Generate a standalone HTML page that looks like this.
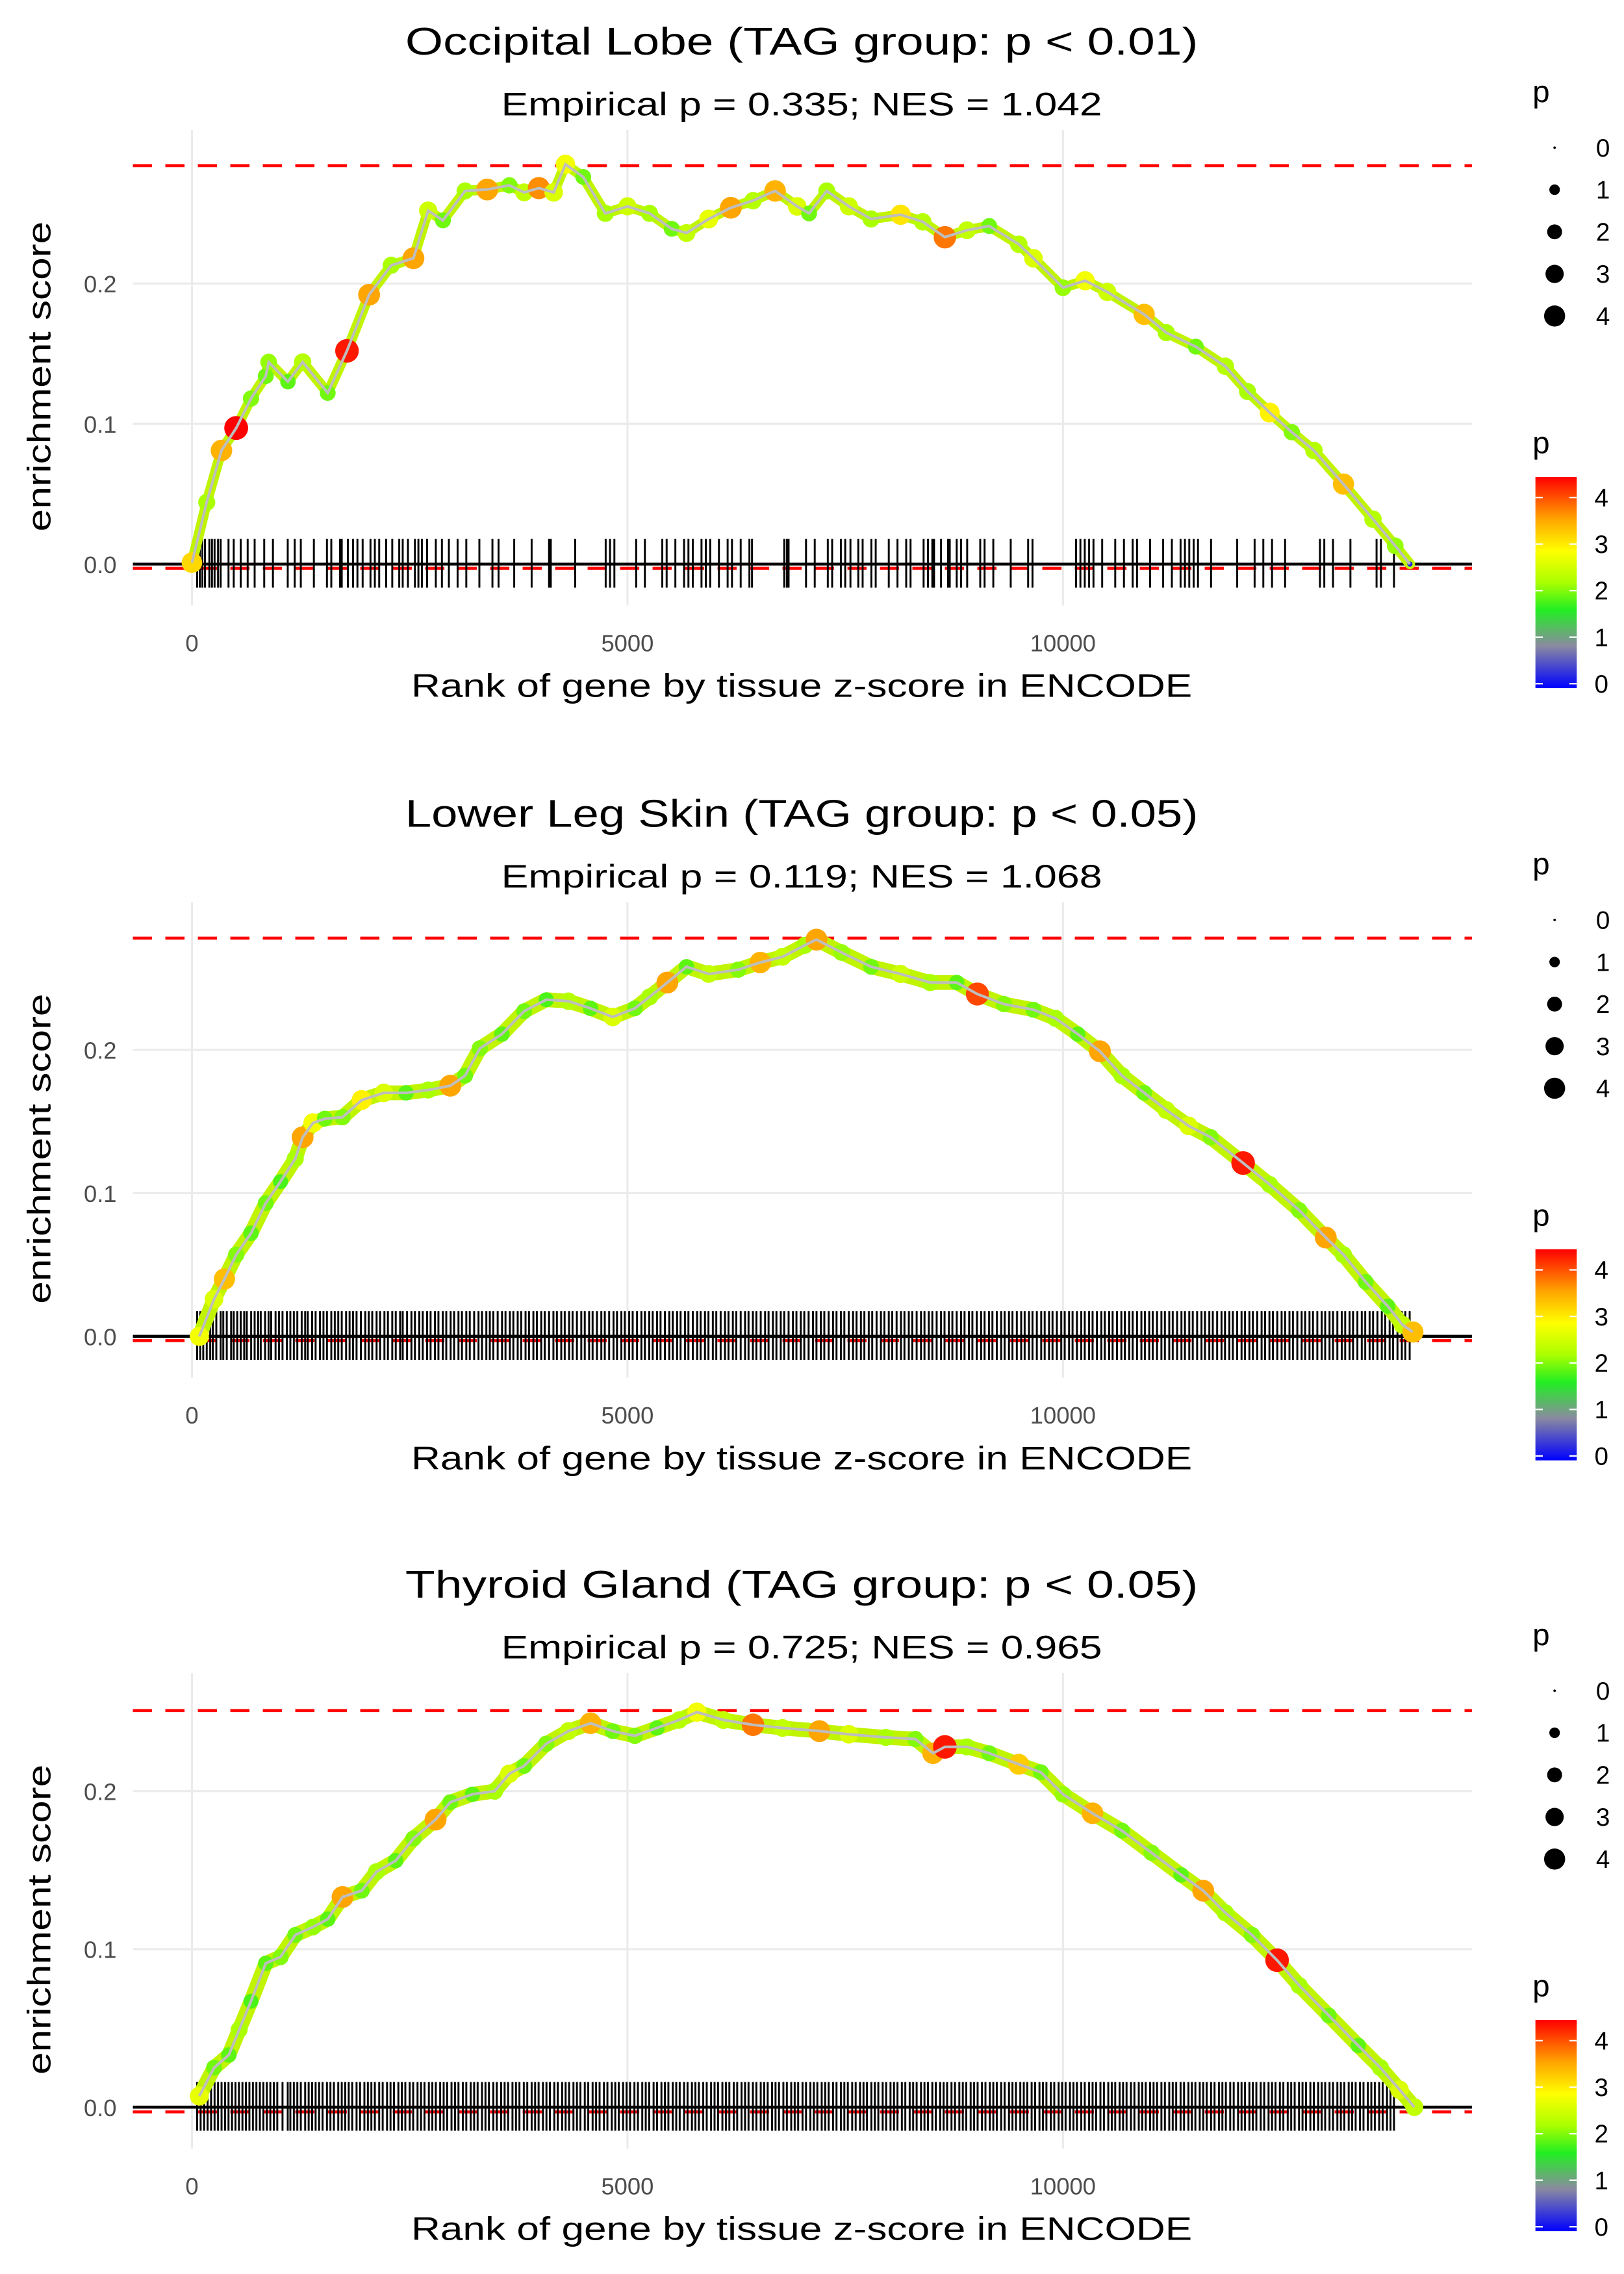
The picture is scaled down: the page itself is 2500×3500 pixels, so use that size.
<!DOCTYPE html>
<html><head><meta charset="utf-8"><title>Enrichment plots</title>
<style>html,body{margin:0;padding:0;background:#fff}svg{display:block}text{font-family:"Liberation Sans",sans-serif}</style>
</head><body>
<svg id="chart" xmlns="http://www.w3.org/2000/svg" width="2500" height="3500" viewBox="0 0 1100 1540">
<defs>
<linearGradient id="pgrad" x1="0" y1="1" x2="0" y2="0">
<stop offset="0" stop-color="#0000ff"/><stop offset="0.2" stop-color="#8a8aa0"/><stop offset="0.37" stop-color="#22ee22"/><stop offset="0.5" stop-color="#aaff00"/><stop offset="0.65" stop-color="#ffff00"/><stop offset="0.8" stop-color="#ffa500"/><stop offset="1" stop-color="#ff0000"/>
</linearGradient>
</defs>
<rect x="0" y="0" width="1100" height="1540" fill="#fff"/>
</svg>
<script>
const titles = ["Occipital Lobe (TAG group: p < 0.01)","Lower Leg Skin (TAG group: p < 0.05)","Thyroid Gland (TAG group: p < 0.05)"];
const subtitles = ["Empirical p = 0.335; NES = 1.042","Empirical p = 0.119; NES = 1.068","Empirical p = 0.725; NES = 0.965"];
const xTicks = [0,5000,10000];
const xTickLabels = ["0","5000","10000"];
const yTicks = [0,0.1,0.2];
const yTickLabels = ["0.0","0.1","0.2"];
const maxLines = [0.284,0.278,0.251];
const minLines = [-0.003,-0.003,-0.003];

const rank1 = [0,170,339,508,678,848,881,1102,1271,1559,1780,2034,2288,2543,2712,2882,3136,3390,3644,3814,3983,4153,4288,4492,4746,5000,5254,5508,5678,5932,6187,6441,6695,6949,7085,7288,7542,7797,8136,8390,8644,8898,9153,9492,9661,10000,10254,10508,10932,11186,11525,11864,12119,12373,12627,12881,13220,13559,13814,13983];
const es1 = [0.001,0.044,0.081,0.097,0.118,0.134,0.144,0.130,0.144,0.122,0.152,0.192,0.213,0.218,0.252,0.245,0.266,0.267,0.270,0.265,0.268,0.265,0.285,0.276,0.250,0.255,0.250,0.239,0.236,0.246,0.254,0.259,0.266,0.255,0.250,0.266,0.255,0.246,0.249,0.244,0.233,0.238,0.241,0.228,0.218,0.197,0.202,0.194,0.178,0.165,0.155,0.141,0.123,0.108,0.094,0.081,0.057,0.032,0.013,0.000];
const p1 = [3.2,2.2,3.5,4.3,2.0,1.9,2.1,1.8,2.3,1.9,4.2,3.6,2.2,3.6,2.5,1.9,2.2,3.6,2.0,2.4,3.7,2.6,2.8,1.9,2.2,2.5,2.2,1.9,2.4,2.7,3.6,2.3,3.5,2.6,1.9,2.2,2.5,2.2,3.1,2.3,3.8,2.4,1.9,2.3,2.6,2.1,2.8,2.5,3.4,2.2,1.9,2.3,2.2,3.0,2.0,2.3,3.4,2.3,2.1,0.2];
const hits1 = [60,90,120,150,200,230,260,300,330,420,480,560,640,720,830,930,1100,1180,1250,1400,1550,1600,1700,1720,1790,1850,1900,1960,2050,2100,2150,2230,2300,2380,2420,2480,2560,2600,2640,2700,2800,2870,2950,3050,3150,3300,3450,3520,3700,3900,4100,4120,4400,4750,4800,4850,5100,5200,5400,5450,5550,5650,5700,5750,5850,5900,5950,6050,6150,6200,6300,6400,6430,6800,6830,6850,7050,7150,7300,7350,7450,7500,7560,7650,7700,7800,7850,8000,8100,8200,8250,8400,8450,8500,8520,8600,8680,8700,8780,8830,8900,9050,9100,9200,9400,9600,9650,10150,10200,10250,10300,10350,10450,10600,10700,10800,10850,11000,11150,11250,11350,11400,11450,11500,11550,11700,12000,12200,12300,12400,12550,12950,13000,13100,13300,13600,13650,13800];

const rank2 = [85,254,373,508,678,848,1017,1186,1271,1390,1525,1729,1949,2203,2458,2712,2966,3136,3305,3559,3814,4068,4322,4576,4831,5085,5254,5458,5678,5932,6271,6525,6780,7034,7170,7458,7797,8136,8475,8780,9017,9322,9661,9915,10170,10424,10678,10932,11186,11441,11695,12068,12373,12712,13017,13220,13475,13729,13898,14017];
const es2 = [0.000,0.026,0.040,0.057,0.072,0.093,0.108,0.124,0.139,0.149,0.152,0.153,0.165,0.170,0.170,0.172,0.175,0.182,0.201,0.211,0.227,0.235,0.234,0.229,0.223,0.229,0.237,0.247,0.258,0.253,0.256,0.261,0.265,0.273,0.277,0.268,0.258,0.253,0.247,0.247,0.239,0.232,0.228,0.222,0.211,0.199,0.182,0.170,0.158,0.147,0.139,0.121,0.106,0.088,0.069,0.057,0.038,0.021,0.008,0.003];
const p2 = [2.8,2.6,3.4,2.0,1.8,1.9,1.7,2.2,3.6,2.8,1.9,2.0,3.0,2.6,1.8,2.2,3.6,1.9,2.0,1.8,1.9,1.7,2.3,1.8,2.6,1.9,2.2,3.6,1.8,2.4,2.0,3.5,2.4,2.2,3.6,2.1,1.9,2.5,2.2,1.8,4.0,2.0,1.9,2.2,1.8,3.6,2.2,1.9,2.4,2.6,2.0,4.2,2.2,2.0,3.6,2.2,1.9,1.8,2.4,3.4];
const hits2 = [60,95,130,170,210,240,280,330,360,400,450,480,520,560,600,630,680,720,760,790,840,880,910,960,1000,1040,1090,1130,1170,1210,1260,1300,1330,1380,1420,1470,1510,1550,1600,1640,1680,1720,1770,1810,1850,1890,1940,1990,2030,2070,2120,2160,2210,2250,2300,2340,2390,2420,2470,2520,2560,2610,2650,2700,2740,2790,2830,2880,2920,2970,3010,3060,3100,3150,3190,3240,3290,3330,3380,3420,3460,3510,3560,3600,3650,3690,3740,3780,3830,3870,3920,3960,4010,4050,4100,4150,4190,4240,4280,4330,4370,4420,4470,4510,4560,4600,4650,4700,4740,4790,4840,4880,4930,4970,5020,5060,5110,5160,5200,5250,5290,5340,5380,5430,5480,5520,5570,5610,5660,5700,5750,5800,5840,5890,5930,5980,6020,6070,6120,6160,6210,6250,6300,6350,6390,6440,6480,6530,6580,6620,6670,6710,6760,6800,6850,6900,6940,6990,7030,7080,7130,7170,7220,7260,7310,7360,7400,7450,7490,7540,7590,7630,7680,7720,7770,7810,7860,7910,7950,8000,8040,8090,8140,8180,8230,8270,8320,8370,8410,8460,8500,8550,8600,8640,8690,8730,8780,8830,8870,8920,8960,9010,9060,9100,9150,9190,9240,9290,9330,9380,9420,9470,9520,9560,9610,9650,9700,9750,9790,9840,9880,9930,9980,10020,10070,10110,10160,10210,10250,10300,10340,10390,10440,10480,10530,10570,10620,10670,10710,10760,10800,10850,10900,10940,10990,11030,11080,11130,11170,11220,11260,11310,11360,11400,11450,11490,11540,11590,11630,11680,11720,11770,11820,11860,11910,11950,12000,12050,12090,12140,12180,12230,12280,12320,12370,12410,12460,12510,12550,12600,12640,12690,12740,12780,12830,12870,12920,12970,13010,13060,13100,13150,13200,13240,13290,13330,13380,13430,13470,13520,13560,13610,13660,13700,13750,13790,13840,13890,13930,13980];

const rank3 = [85,254,424,542,678,848,1017,1186,1390,1559,1729,1949,2119,2339,2543,2797,2966,3220,3475,3644,3814,4068,4322,4576,4831,5085,5339,5593,5797,6102,6441,6780,7203,7542,7966,8305,8508,8644,8898,9153,9492,9746,10000,10339,10678,11017,11356,11610,11864,12169,12458,12712,13051,13390,13644,13864,14034];
const es3 = [0.007,0.025,0.033,0.049,0.067,0.091,0.095,0.109,0.114,0.119,0.133,0.137,0.149,0.156,0.170,0.182,0.193,0.198,0.200,0.211,0.216,0.230,0.238,0.243,0.238,0.235,0.240,0.245,0.250,0.245,0.242,0.240,0.238,0.236,0.234,0.233,0.224,0.228,0.228,0.224,0.217,0.212,0.198,0.186,0.175,0.161,0.147,0.137,0.123,0.109,0.093,0.077,0.058,0.039,0.025,0.011,0.000];
const p3 = [2.7,1.9,1.8,2.2,1.7,1.8,2.0,1.9,2.1,1.8,3.6,1.9,2.2,1.8,2.0,3.6,1.9,1.8,2.2,2.6,1.9,2.0,2.4,3.5,1.9,2.0,1.8,2.3,2.8,2.4,3.8,2.4,3.6,2.6,2.2,2.0,3.5,4.2,2.2,1.9,3.3,1.9,2.1,3.5,1.9,2.0,1.8,3.6,2.2,2.0,4.2,2.2,1.9,1.8,2.2,2.6,2.4];
const hits3 = [60,100,140,180,220,260,300,340,380,420,460,500,540,580,620,660,700,740,780,820,860,900,940,980,1040,1100,1130,1170,1210,1250,1300,1340,1380,1420,1460,1500,1550,1590,1630,1680,1720,1760,1800,1840,1890,1930,1980,2020,2060,2100,2150,2190,2240,2280,2320,2370,2410,2450,2500,2540,2590,2630,2670,2720,2760,2800,2850,2890,2930,2980,3020,3060,3110,3150,3200,3240,3280,3330,3370,3410,3460,3500,3550,3590,3630,3680,3720,3760,3810,3850,3900,3940,3980,4030,4070,4110,4160,4200,4250,4290,4330,4380,4420,4460,4510,4550,4600,4640,4680,4730,4770,4820,4860,4900,4950,4990,5030,5080,5120,5170,5210,5250,5300,5340,5390,5430,5470,5520,5560,5600,5650,5690,5740,5780,5820,5870,5910,5960,6000,6040,6090,6130,6170,6220,6260,6310,6350,6390,6440,6480,6530,6570,6610,6660,6700,6740,6790,6830,6880,6920,6960,7010,7050,7100,7140,7180,7230,7270,7310,7360,7400,7450,7490,7530,7580,7620,7670,7710,7750,7800,7840,7880,7930,7970,8020,8060,8100,8150,8190,8240,8280,8320,8370,8410,8450,8500,8540,8590,8630,8670,8720,8760,8810,8850,8890,8940,8980,9020,9070,9110,9160,9200,9240,9290,9330,9380,9420,9460,9510,9550,9590,9640,9680,9730,9770,9810,9860,9900,9950,9990,10030,10080,10120,10160,10210,10250,10300,10340,10380,10430,10470,10520,10560,10600,10650,10690,10730,10780,10820,10870,10910,10950,11000,11040,11080,11130,11170,11220,11260,11300,11350,11390,11440,11480,11520,11570,11610,11650,11700,11740,11790,11830,11870,11920,11960,12010,12050,12090,12140,12180,12220,12270,12310,12360,12400,12440,12490,12530,12580,12620,12660,12710,12750,12790,12840,12880,12930,12970,13010,13060,13100,13150,13190,13230,13280,13320,13360,13410,13450,13500,13540,13580,13630,13670,13720,13760,13800];

const sizeLegendValues = [0,1,2,3,4];
const colorLegendValues = [0,1,2,3,4];

const svg = document.getElementById('chart');
const NS = 'http://www.w3.org/2000/svg';
function mk(tag, attrs, parent){ const e=document.createElementNS(NS,tag); for(const k in attrs) e.setAttribute(k,attrs[k]); (parent||svg).appendChild(e); return e; }

const stops = [[0,[0,0,255]],[0.8,[138,138,160]],[1.5,[34,238,34]],[2.2,[170,255,0]],[2.9,[255,255,0]],[3.6,[255,165,0]],[4.3,[255,0,0]]];
function pColor(p){
  if(p<=stops[0][0]) return 'rgb(0,0,255)';
  for(let i=1;i<stops.length;i++){
    if(p<=stops[i][0]){ const a=stops[i-1],b=stops[i]; const t=(p-a[0])/(b[0]-a[0]);
      const c=a[1].map((v,j)=>Math.round(v+(b[1][j]-v)*t)); return 'rgb('+c.join(',')+')'; }
  }
  return 'rgb(255,0,0)';
}
function pRadius(p){ return Math.max(0.8, 3.9*Math.sqrt(Math.max(p,0))); }

const panels = [
  {off:0, y0:382, ys:950, rank:rank1, es:es1, p:p1, hits:hits1, band:7},
  {off:523, y0:905, ys:970, rank:rank2, es:es2, p:p2, hits:hits2, band:10},
  {off:1045, y0:1427, ys:1070, rank:rank3, es:es3, p:p3, hits:hits3, band:10}
];
const X0=130, XS=295/5000, PL=90, PR=997;

panels.forEach((P,i)=>{
  const g=mk('g',{});
  
  
  const xs=r=>X0+r*XS, ysf=v=>P.y0-v*P.ys;
  const top=88+P.off, bot=410+P.off;
  yTicks.forEach((t,k)=>{
    const l=mk('line',{x1:PL,x2:PR,y1:ysf(t),y2:ysf(t),stroke:'#ebebeb','stroke-width':1.4},g);
    
    
    const tx=mk('text',{x:79,y:ysf(t)+6,'text-anchor':'end','font-size':16,fill:'#4d4d4d'},g);
    tx.textContent=yTickLabels[k];
    
    
  });
  xTicks.forEach((t,k)=>{
    const l=mk('line',{x1:xs(t),x2:xs(t),y1:top,y2:bot,stroke:'#ebebeb','stroke-width':1.4},g);
    
    
    const tx=mk('text',{x:xs(t),y:441+P.off,'text-anchor':'middle','font-size':16,fill:'#4d4d4d'},g);
    tx.textContent=xTickLabels[k];
    
    
  });
  [maxLines[i],minLines[i]].forEach((v,k)=>{
    const l=mk('line',{x1:PL,x2:PR,y1:ysf(v),y2:ysf(v),stroke:'#ff0000','stroke-width':2,'stroke-dasharray':'13 9'},g);
    
    
  });
  P.hits.forEach(h=>{
    const l=mk('line',{x1:xs(h),x2:xs(h),y1:P.y0-17,y2:P.y0+16,stroke:'#000','stroke-width':1.3},g);
    
    
  });
  const base=mk('line',{x1:PL,x2:PR,y1:P.y0,y2:P.y0,stroke:'#000','stroke-width':2},g);
  
  
  const d=P.rank.map((r,k)=>(k?'L':'M')+xs(r).toFixed(1)+' '+ysf(P.es[k]).toFixed(1)).join(' ');
  const b=mk('path',{d:d,fill:'none',stroke:'#c0f400','stroke-width':P.band,'stroke-linejoin':'round','stroke-linecap':'round'},g);
  
  
  P.rank.forEach((r,k)=>{
    const c=mk('circle',{cx:xs(r),cy:ysf(P.es[k]),r:pRadius(P.p[k]),fill:pColor(P.p[k])},g);
    
    
  });
  const line=mk('path',{d:d,fill:'none',stroke:'#bebebe','stroke-width':1.8},g);
  
  
  const t1=mk('text',{x:543,y:37+P.off,'text-anchor':'middle','font-size':26,fill:'#000',textLength:537,lengthAdjust:'spacingAndGlyphs'},g);
  t1.textContent=titles[i];
  
  
  const t2=mk('text',{x:543,y:78+P.off,'text-anchor':'middle','font-size':22,fill:'#000',textLength:407,lengthAdjust:'spacingAndGlyphs'},g);
  t2.textContent=subtitles[i];
  
  
  const xl=mk('text',{x:543,y:472+P.off,'text-anchor':'middle','font-size':22,fill:'#000',textLength:529,lengthAdjust:'spacingAndGlyphs'},g);
  xl.textContent='Rank of gene by tissue z-score in ENCODE';
  
  
  const yl=mk('text',{x:0,y:0,'text-anchor':'middle','font-size':22,fill:'#000',textLength:210,lengthAdjust:'spacingAndGlyphs',transform:'translate(34,'+(255+P.off)+') rotate(-90)'},g);
  yl.textContent='enrichment score';
  
  
  const sl=mk('g',{},g);
  
  
  const st=mk('text',{x:1038,y:69+P.off,'font-size':21,fill:'#000'},sl);
  st.textContent='p';
  
  
  sizeLegendValues.forEach((v,k)=>{
    const cy=100+k*28.5+P.off;
    const c=mk('circle',{cx:1053,cy:cy,r:Math.max(0.8,3.4*Math.sqrt(v))*1.05,fill:'#000'},sl);
    
    
    const tx=mk('text',{x:1081,y:cy+6,'font-size':17,fill:'#000'},sl);
    tx.textContent=String(v);
    
    
  });
  const cl=mk('g',{},g);
  
  
  const ct=mk('text',{x:1038,y:307+P.off,'font-size':21,fill:'#000'},cl);
  ct.textContent='p';
  
  
  const r=mk('rect',{x:1040,y:323+P.off,width:28,height:143,fill:'url(#pgrad)'},cl);
  
  
  colorLegendValues.forEach(v=>{
    const y=463-v*31.5+P.off;
    mk('line',{x1:1040,x2:1045,y1:y,y2:y,stroke:'#fff','stroke-width':1},cl);
    mk('line',{x1:1063,x2:1068,y1:y,y2:y,stroke:'#fff','stroke-width':1},cl);
    const tx=mk('text',{x:1080,y:y+6,'font-size':17,fill:'#000'},cl);
    tx.textContent=String(v);
    
    
  });
});
</script>
</body></html>
